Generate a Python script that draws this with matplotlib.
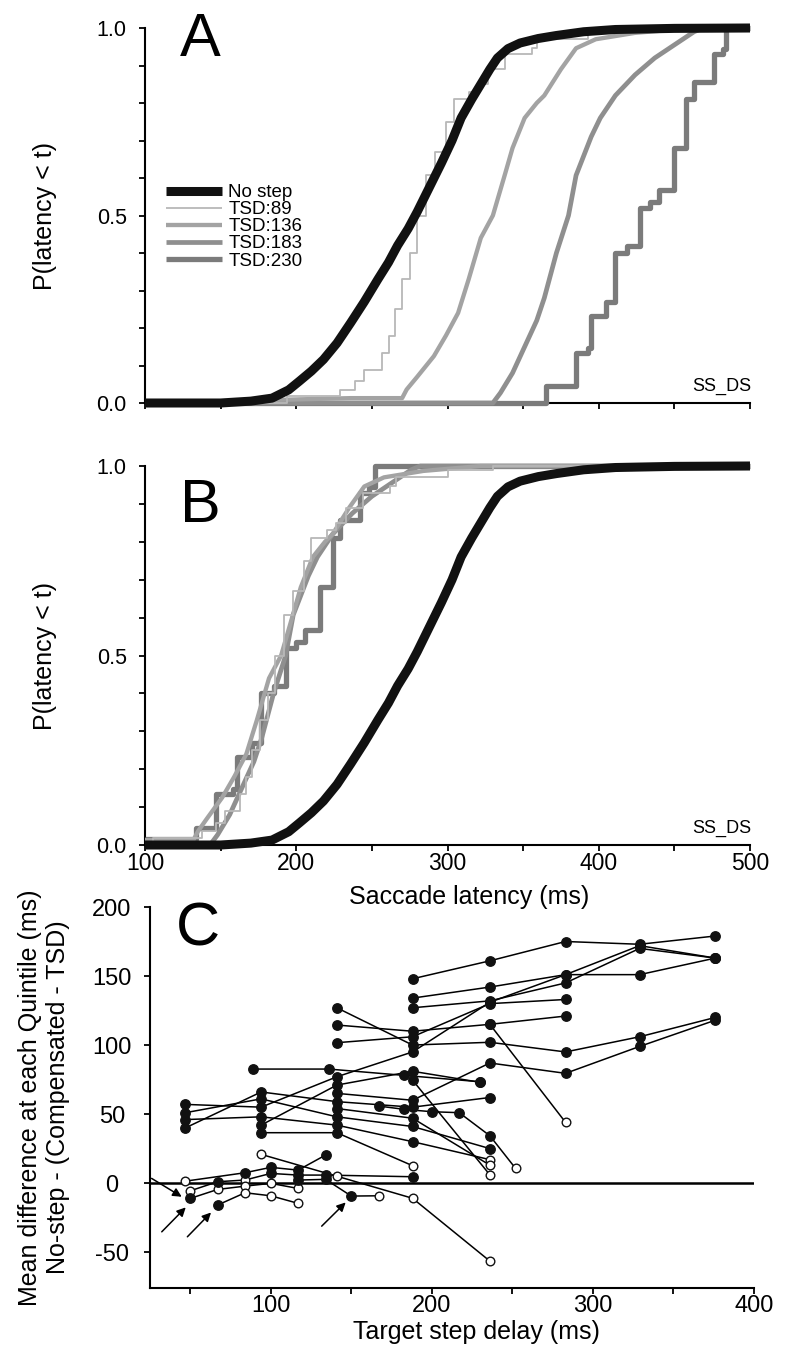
import matplotlib
matplotlib.use('Agg')
import matplotlib.pyplot as plt

plt.rcParams['font.family'] = ['Liberation Sans', 'DejaVu Sans']
plt.rcParams['axes.unicode_minus'] = False

# ---------------- data: panel A (cumulative latency distributions) ----------------
legend_labels = ['No step', 'TSD:89', 'TSD:136', 'TSD:183', 'TSD:230']

nostep_ms = [100, 150, 170, 184, 195, 202, 210, 218, 227, 236, 245, 254, 261, 267, 274, 280,
             288, 296, 303, 309, 316, 322, 328, 333, 340, 348, 360, 372, 390, 411, 450, 500]
nostep_p = [0, 0, 0.005, 0.013, 0.035, 0.058, 0.085, 0.116, 0.16, 0.214, 0.27, 0.33, 0.375, 0.42,
            0.465, 0.51, 0.575, 0.64, 0.70, 0.76, 0.81, 0.85, 0.89, 0.92, 0.945, 0.96, 0.972, 0.98,
            0.99, 0.996, 0.999, 1.0]

a89_ms = [100, 194, 229, 239, 245, 257, 261, 265, 270, 275, 280, 286, 292, 299, 304, 314, 320,
          327, 338, 356, 359, 393, 424, 500]
a89_p = [0, 0.018, 0.036, 0.058, 0.089, 0.134, 0.18, 0.25, 0.33, 0.40, 0.50, 0.607, 0.67, 0.75,
         0.81, 0.83, 0.85, 0.89, 0.93, 0.946, 0.97, 0.99, 1.0, 1.0]

a136_ms = [100, 236, 270, 273, 280, 291, 299, 307, 314, 322, 330, 338, 343, 351, 359, 364, 375,
           385, 398, 424, 463, 500]
a136_p = [0, 0.013, 0.013, 0.036, 0.07, 0.125, 0.18, 0.24, 0.33, 0.44, 0.50, 0.61, 0.68, 0.76,
          0.80, 0.82, 0.89, 0.946, 0.97, 0.987, 1.0, 1.0]

a183_ms = [100, 330, 335, 343, 351, 359, 364, 372, 380, 385, 395, 401, 411, 424, 437, 450, 463,
           469, 500]
a183_p = [0, 0, 0.027, 0.08, 0.15, 0.22, 0.28, 0.40, 0.50, 0.607, 0.71, 0.76, 0.82, 0.875, 0.92,
          0.955, 0.99, 1.0, 1.0]

a230_ms = [100, 365, 385, 393, 395, 405, 411, 419, 427, 434, 440, 450, 458, 463, 476, 482, 484, 500]
a230_p = [0, 0.045, 0.134, 0.147, 0.232, 0.27, 0.40, 0.42, 0.52, 0.535, 0.567, 0.68, 0.81, 0.857,
          0.93, 0.945, 1.0, 1.0]

# ---------------- data: panel B ----------------
b89_ms = [100, 105, 138, 147, 153, 163, 167, 171, 176, 181, 186, 192, 198, 205, 210, 220, 226,
          233, 244, 262, 266, 300, 330, 500]
b89_p = [0, 0.018, 0.036, 0.058, 0.089, 0.134, 0.18, 0.25, 0.33, 0.40, 0.50, 0.607, 0.67, 0.75,
         0.81, 0.83, 0.85, 0.89, 0.93, 0.946, 0.97, 0.99, 1.0, 1.0]
b136_ms = [100, 132, 135, 141, 151, 159, 167, 174, 182, 190, 198, 203, 211, 219, 224, 235, 245,
           258, 284, 322, 500]
b136_p = [0.013, 0.013, 0.036, 0.07, 0.125, 0.18, 0.24, 0.33, 0.44, 0.50, 0.61, 0.68, 0.76,
          0.80, 0.82, 0.89, 0.946, 0.97, 0.987, 1.0, 1.0]
b183_ms = [100, 143, 148, 156, 164, 172, 177, 185, 193, 198, 208, 214, 224, 237, 250, 263, 276,
           282, 500]
b183_p = [0, 0, 0.027, 0.08, 0.15, 0.22, 0.28, 0.40, 0.50, 0.607, 0.71, 0.76, 0.82, 0.875, 0.92,
          0.955, 0.99, 1.0, 1.0]
b230_ms = [100, 134, 147, 158, 161, 171, 177, 185, 193, 200, 206, 216, 224, 229, 242, 248, 252, 500]
b230_p = [0.015, 0.045, 0.134, 0.147, 0.232, 0.27, 0.40, 0.42, 0.52, 0.535, 0.567, 0.68, 0.81,
          0.857, 0.93, 0.945, 1.0, 1.0]

# ---------------- data: panel C (each line: list of (TSD, difference, significant)) ----------------
c_upper = [
    [(47, 57, 1), (94, 55, 1), (141, 77, 1), (188, 95, 1), (236, 131, 1), (283, 151, 1), (329, 172, 1), (376, 163, 1)],
    [(47, 51, 1), (94, 61, 1), (141, 48, 1), (188, 41, 1), (236, 25, 1)],
    [(47, 46, 1), (94, 48, 1), (141, 42, 1), (188, 30, 1), (236, 17, 0)],
    [(47, 40, 1), (94, 66, 1), (141, 59, 1), (188, 55, 1), (236, 62, 1)],
    [(94, 42, 1), (141, 71, 1), (188, 81, 1), (230, 73, 1)],
    [(94, 36.5, 1), (141, 36.5, 1), (188, 12.6, 0)],
    [(141, 127, 1), (188, 100, 1), (236, 102, 1), (283, 95, 1), (329, 106, 1), (376, 120, 1)],
    [(141, 114.5, 1), (188, 110, 1), (236, 115, 1), (283, 121, 1)],
    [(141, 101.7, 1), (188, 106, 1), (236, 130, 1), (283, 133, 1)],
    [(141, 65, 1), (188, 60, 1), (236, 87, 1), (283, 79.5, 1), (329, 99, 1), (376, 118, 1)],
    [(141, 54, 1), (188, 47, 1), (236, 13, 0)],
    [(188, 148, 1), (236, 161, 1), (283, 175, 1), (329, 173, 1), (376, 179, 1)],
    [(188, 134, 1), (236, 142, 1), (283, 151, 1), (329, 151, 1), (376, 163, 1)],
    [(188, 127, 1), (236, 132, 1), (283, 145, 1), (329, 170, 1), (376, 163, 1)],
    [(236, 115, 1), (283, 44, 0)],
    [(188, 74.6, 1), (236, 6, 0)],
]
c_ds = [
    [(89, 82.6, 1), (136, 82.6, 1), (183, 78, 1), (230, 73.4, 1)],
    [(167, 55.8, 1), (183, 53.4, 1), (200, 51.7, 1), (217, 51, 1), (236, 34.3, 1), (252, 10.6, 0)],
]
c_lower = [
    [(47, 1.4, 0), (84, 7.5, 1), (100, 11.4, 1), (117, 9.4, 1), (134, 20.3, 1)],
    [(50, -5.6, 0), (67, 1, 1), (84, 2.2, 0), (100, 7, 1), (117, 5.8, 1), (134, 5.8, 1), (188, 4.6, 1)],
    [(50, -11.1, 1), (67, -4.6, 0), (84, -2.2, 0), (100, -0.2, 0), (117, -3.9, 0)],
    [(67, -15.9, 1), (84, -7, 0), (100, -9.2, 0), (117, -14.7, 0)],
    [(94, 20.8, 0), (141, 5, 0), (188, -11, 0), (236, -56.5, 0)],
    [(117, 2.2, 1), (134, 2.7, 1), (150, -9.4, 1), (167, -9.2, 0)],
]
c_arrows = [((26, 3.4), (44.7, -9.9)), ((32.3, -35.3), (47.2, -17.6)),
            ((48.2, -38.9), (62.9, -21.3)), ((131.6, -31.2), (146.5, -14.0))]

c_yticks = [-50, 0, 50, 100, 150, 200]
c_xticks = [50, 100, 150, 200, 250, 300, 350, 400]
c_xticklabels = ['', '100', '', '200', '', '300', '', '400']
cdf_xticks = [100, 150, 200, 250, 300, 350, 400, 450, 500]
cdf_xticklabels = ['100', '', '200', '', '300', '', '400', '', '500']
cdf_yticks = [0.0, 0.1, 0.2, 0.3, 0.4, 0.5, 0.6, 0.7, 0.8, 0.9, 1.0]
cdf_yticklabels = ['0.0', '', '', '', '', '0.5', '', '', '', '', '1.0']

# ---------------- figure ----------------
W, H = 800, 1359
fig = plt.figure(figsize=(W / 100, H / 100), dpi=100)


def rect(l, r, t, b):
    return [l / W, 1 - b / H, (r - l) / W, (b - t) / H]


axA = fig.add_axes(rect(145, 750, 28, 403))
axB = fig.add_axes(rect(145, 750, 466, 845))
axC = fig.add_axes(rect(150, 754, 907, 1288))
for ax in (axA, axB, axC):
    ax.patch.set_visible(False)

label_fs = 18
colors = ['#111111', '#b8b8b8', '#a3a3a3', '#8f8f8f', '#7b7b7b']
widths = [6.5, 1.3, 3.1, 3.4, 3.8]


def style_common(ax, ypad, yfs, xfs):
    for s in ['top', 'right']:
        ax.spines[s].set_visible(False)
    for s in ['left', 'bottom']:
        ax.spines[s].set_linewidth(1.5)
    ax.tick_params(direction='out', length=4.5, width=1.3)
    ax.tick_params(axis='x', pad=0.5, labelsize=xfs)
    ax.tick_params(axis='y', pad=ypad, labelsize=yfs)
    for t in ax.get_yticklabels():
        t.set_horizontalalignment('center')


def style_cdf(ax):
    ax.set_xlim(100, 500)
    ax.set_ylim(0, 1)
    ax.set_xticks(cdf_xticks)
    ax.set_xticklabels(cdf_xticklabels)
    ax.set_yticks(cdf_yticks)
    ax.set_yticklabels(cdf_yticklabels)
    style_common(ax, 19.5, 15.5, 16.5)
    ax.set_ylabel('P(latency < t)', fontsize=label_fs)
    ax.yaxis.set_label_coords(-0.146, 0.5)
    ax.text(1.003, 0.022, 'SS_DS', transform=ax.transAxes, ha='right', va='bottom', fontsize=13)


# Panel A
style_cdf(axA)
axA.set_xticklabels([])
a_series = [(nostep_ms, nostep_p), (a89_ms, a89_p), (a136_ms, a136_p), (a183_ms, a183_p), (a230_ms, a230_p)]
handles = [None] * 5
for i in range(4, -1, -1):
    xs, ps = a_series[i]
    ds = 'steps-post' if i in (1, 4) else 'default'
    ln, = axA.plot(xs, ps, color=colors[i], lw=widths[i], drawstyle=ds, clip_on=False,
                   solid_capstyle='butt', zorder=3 + (i == 0))
    handles[i] = ln
axA.legend(handles, legend_labels, loc='upper left', bbox_to_anchor=(166 / W, 1 - 184 / H),
           bbox_transform=fig.transFigure, frameon=False, fontsize=13.5, handlelength=3.0,
           handletextpad=0.33, labelspacing=0.0, borderpad=0, borderaxespad=0)
fig.text(200 / W, 1 - 40 / H, 'A', fontsize=44, ha='center', va='center')

# Panel B
style_cdf(axB)
axB.set_xlabel('Saccade latency (ms)', fontsize=label_fs)
axB.xaxis.set_label_coords(0.535, -0.106)
b_series = [(nostep_ms, nostep_p), (b89_ms, b89_p), (b136_ms, b136_p), (b183_ms, b183_p), (b230_ms, b230_p)]
for i in [4, 3, 2, 1, 0]:
    xs, ps = b_series[i]
    ds = 'steps-post' if i in (1, 4) else 'default'
    axB.plot(xs, ps, color=colors[i], lw=widths[i], drawstyle=ds, clip_on=False,
             solid_capstyle='butt', zorder=3 + (i == 0))
fig.text(200 / W, 1 - 506 / H, 'B', fontsize=44, ha='center', va='center')

# Panel C
axC.set_xlim(25, 400)
axC.set_ylim(-76, 200)
axC.set_xticks(c_xticks)
axC.set_xticklabels(c_xticklabels)
axC.set_yticks(c_yticks)
axC.set_yticklabels([str(v) for v in c_yticks])
style_common(axC, 23, 17, 17)
axC.axhline(0, color='black', lw=1.8, zorder=1)
for group in (c_upper, c_ds, c_lower):
    for line in group:
        xs = [p[0] for p in line]
        ys = [p[1] for p in line]
        axC.plot(xs, ys, color='black', lw=1.1, zorder=2)
        for x, y, f in line:
            if f:
                axC.plot(x, y, 'o', ms=6.8, mfc='#111111', mec='#111111', mew=1, zorder=4)
            else:
                axC.plot(x, y, 'o', ms=6.2, mfc='white', mec='#111111', mew=1.0, zorder=3)
for tail, head in c_arrows:
    axC.annotate('', xy=head, xytext=tail,
                 arrowprops=dict(arrowstyle='-|>', color='black', lw=1.1, mutation_scale=13,
                                 shrinkA=0, shrinkB=0))
axC.set_xlabel('Target step delay (ms)', fontsize=label_fs)
axC.xaxis.set_label_coords(0.54, -0.084)
axC.set_ylabel('Mean difference at each Quintile (ms)\nNo-step - (Compensated - TSD)',
               fontsize=label_fs, linespacing=1.2)
axC.yaxis.set_label_coords(-0.132, 0.5)
fig.text(198 / W, 1 - 930 / H, 'C', fontsize=44, ha='center', va='center')

fig.savefig('out.png', dpi=100)
